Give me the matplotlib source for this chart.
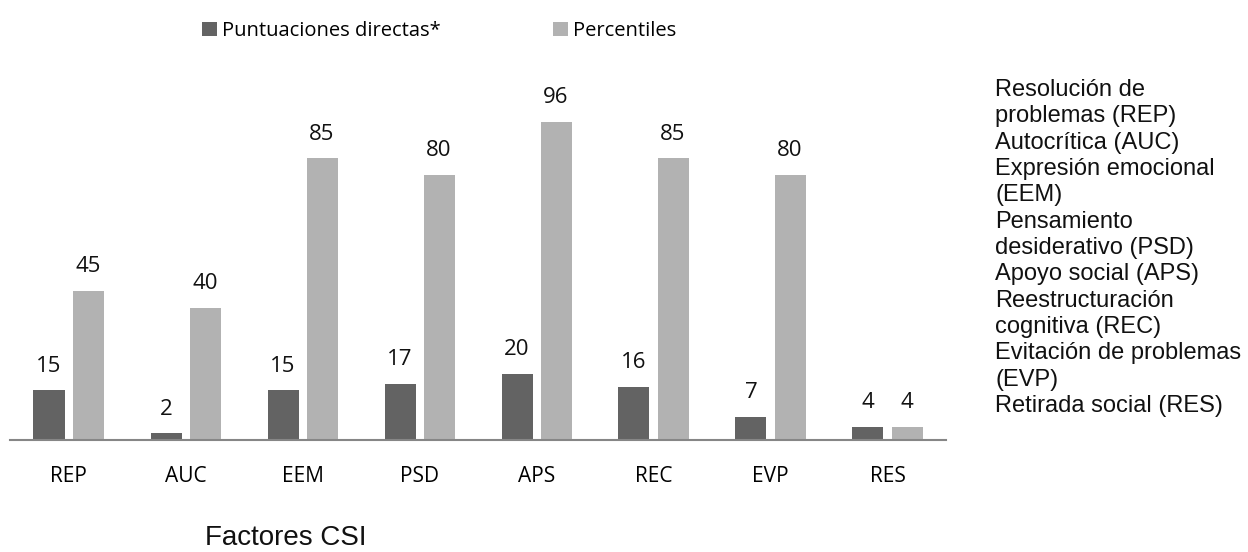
import numpy as np
import matplotlib.pyplot as plt

# factores CSI
categorias = ['REP', 'AUC', 'EEM', 'PSD', 'APS', 'REC', 'EVP', 'RES']
directas = [15, 2, 15, 17, 20, 16, 7, 4]
percentiles = [45, 40, 85, 80, 96, 85, 80, 4]
leyenda = ['Puntuaciones directas*', 'Percentiles']
descripcion = ['Resolución de', 'problemas (REP)', 'Autocrítica (AUC)',
               'Expresión emocional', '(EEM)', 'Pensamiento',
               'desiderativo (PSD)', 'Apoyo social (APS)', 'Reestructuración',
               'cognitiva (REC)', 'Evitación de problemas', '(EVP)',
               'Retirada social (RES)']

oscuro = '#636363'
claro = '#b2b2b2'
font_lbl = 'Open Sans'
font_txt = 'Liberation Sans'

W, H = 1248, 552
fig = plt.figure(figsize=(W / 100, H / 100), dpi=100)
# axis line at y=440 px, top bar (96) at y=122 px
ax = fig.add_axes([10 / W, (H - 440) / H, 936 / W, 360 / H])

x = np.arange(len(categorias))
w = 31 / 117
sep = 8 / 117
b1 = ax.bar(x - (w + sep) / 2, directas, w, color=oscuro, label=leyenda[0])
b2 = ax.bar(x + (w + sep) / 2, percentiles, w, color=claro, label=leyenda[1])

for bars, vals in ((b1, directas), (b2, percentiles)):
    for r, v in zip(bars, vals):
        ax.annotate(str(v), (r.get_x() + r.get_width() / 2, v),
                    xytext=(0, 13.5), textcoords='offset points',
                    ha='center', va='baseline', fontsize=16,
                    family=font_lbl, color='#111111')

ax.set_xlim(-0.5, len(categorias) - 0.5)
ax.set_ylim(0, 360 / (318 / 96))
ax.set_xticks(x)
ax.set_xticklabels(categorias, family=font_lbl, fontsize=15)
ax.tick_params(axis='x', length=0, pad=19)
ax.set_yticks([])
for s in ['top', 'right', 'left']:
    ax.spines[s].set_visible(False)
ax.spines['bottom'].set_color('#868686')
ax.spines['bottom'].set_linewidth(1.5)

# leyenda arriba
leg = fig.legend(handles=[b1, b2], loc='center left', bbox_to_anchor=(202 / W, 1 - 31 / H),
                 ncol=2, frameon=False, prop={'family': font_lbl, 'size': 14.5},
                 handlelength=0.75, handleheight=0.75, handletextpad=0.25,
                 columnspacing=5.55, borderpad=0, borderaxespad=0)

# texto lateral
y0 = 90
paso = (405 - 89) / 12
for i, linea in enumerate(descripcion):
    fig.text(995 / W, 1 - (y0 + i * paso) / H, linea, family=font_txt,
             fontsize=17, va='center', ha='left', color='#111111')

fig.text(205 / W, 1 - 545 / H, 'Factores CSI', family=font_txt,
         fontsize=20, va='baseline', ha='left', color='#111111')

fig.savefig('out.png', dpi=100)
